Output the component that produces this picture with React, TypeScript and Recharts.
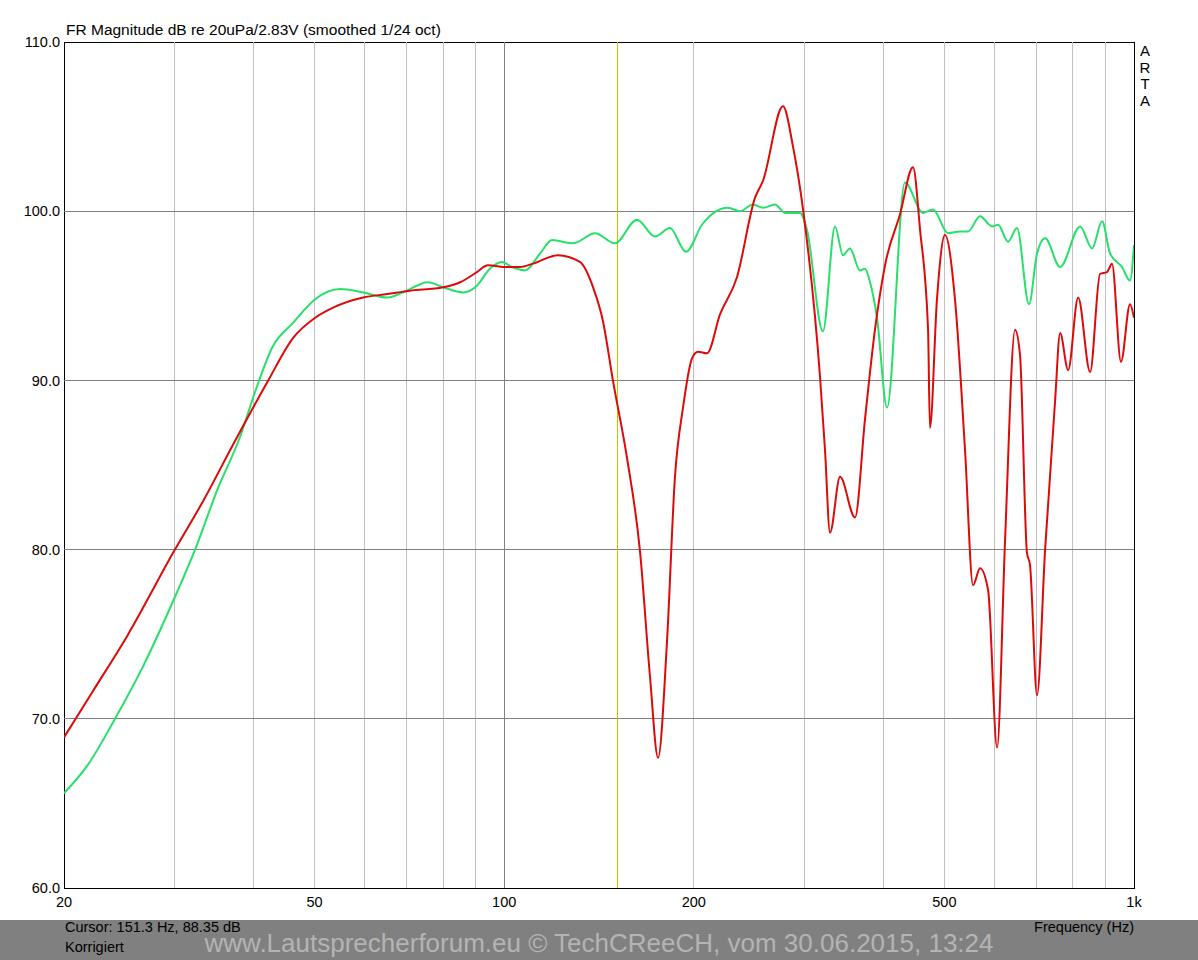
import React from "react";
import {
  LineChart,
  Line,
  XAxis,
  YAxis,
  ReferenceLine,
  ReferenceArea,
} from "recharts";

const FONT = "'Liberation Sans', Arial, sans-serif";

const xTicks = [20, 50, 100, 200, 500, 1000];
const yTicks = [60, 70, 80, 90, 100, 110];
const minorFreqs = [30, 40, 50, 60, 70, 80, 90, 200, 300, 400, 500, 600, 700, 800, 900];
const majorFreqs = [100];
const hGrid = [70, 80, 90, 100];
const cursorFreq = 151.3;

// red curve
const redFreq = [
  20, 22.2, 25.2, 30, 33.3, 37.1, 42.2, 46.2, 50.1, 53.5, 59.7, 65.2, 70.9, 80.0,
  85.1, 90.5, 94.2, 101, 105.9, 111.1, 121.7, 131.9, 138.4, 143.5, 148.8, 156.7,
  164.3, 170.4, 175.5, 181.3, 186.7, 192.3, 198.7, 203.1, 209.9, 220.1, 234.2,
  250.2, 257.6, 277.1, 287.5, 298.2, 317.3, 323.1, 329.1, 341.4, 360.6, 374,
  387.9, 402.4, 425, 445.8, 457.4, 471, 474.2, 486.6, 501, 519.7, 539.1, 555.2,
  569.6, 586.6, 606.2, 624.2, 647.3, 659.2, 676.2, 683.7, 701.5, 722.5, 749.4,
  763.3, 786, 815.3, 851.7, 883.3, 906, 922.7, 953.5, 985.6, 1000,
];
const redDb = [
  68.9, 71.6, 74.9, 80.0, 82.9, 86.2, 90.0, 92.5, 93.7, 94.3, 94.9, 95.1, 95.3, 95.5,
  95.8, 96.4, 96.8, 96.7, 96.7, 96.9, 97.4, 97.0, 95.5, 93.5, 90.0, 85.4,
  79.9, 72.5, 67.7, 74.5, 84.3, 88.4, 91.3, 91.7, 91.6, 93.9, 96.1,
  100.8, 101.8, 106.2, 103.8, 100.1, 90.2, 85.9, 81.0, 84.3, 81.9, 87.7,
  93.0, 96.8, 99.8, 102.6, 98.9, 93.0, 87.2, 94.8, 98.6, 94.8, 85.9, 77.9,
  78.9, 77.6, 68.3, 80.6, 93.0, 91.5, 79.8, 79.1, 71.4, 80.0, 88.8,
  92.8, 90.6, 94.9, 90.5, 96.3, 96.4, 96.9, 91.1, 94.5, 93.7,
];

// green curve
const greenFreq = [
  20, 21.75, 24.1, 26.7, 30, 32.3, 35.0, 38.1, 40.2, 42.9, 46.2, 50.1, 54.9, 59.7,
  65.2, 69.1, 75.7, 80.0, 86.0, 90.5, 94.9, 99.2, 102.9, 107.9, 114, 119.1, 128.6,
  139.4, 149.9, 162.5, 173.6, 183.3, 194.4, 206.1, 226.7, 236.8, 248.3, 257.6,
  269.1, 279.2, 294.9, 302.5, 320.7, 335.2, 345.1, 354, 367.2, 374, 381, 390.8,
  405.4, 432.8, 462.4, 479.6, 506.6, 529.4, 545.1, 569.6, 595.3, 608.4, 630.9,
  652, 681.2, 701.5, 722.5, 763.3, 821.2, 857.9, 889.8, 916.2, 957.1, 985.6, 1000,
];
const greenDb = [
  65.6, 67.2, 70.0, 73.1, 77.2, 80.0, 83.5, 86.7, 89.3, 92.0, 93.4, 94.8, 95.4, 95.2,
  94.9, 95.2, 95.8, 95.5, 95.2, 95.6, 96.6, 97.0, 96.7, 96.5, 97.5, 98.3, 98.1,
  98.7, 98.1, 99.5, 98.5, 99.0, 97.6, 99.2, 100.2, 100.0, 100.4, 100.2,
  100.4, 99.9, 99.9, 98.9, 92.9, 99.1, 97.4, 97.8, 96.5, 96.6, 95.8, 93.7,
  88.4, 101.7, 99.9, 100.1, 98.7, 98.8, 98.8, 99.7, 99.1, 99.2, 98.2,
  99.0, 94.5, 97.5, 98.4, 96.7, 99.1, 97.8, 99.4, 97.5, 96.7, 95.9, 98.0,
];

const redData = redFreq.map((f, i) => ({ f, db: redDb[i] }));
const greenData = greenFreq.map((f, i) => ({ f, db: greenDb[i] }));

const fmtFreq = (v: number) => (v >= 1000 ? `${v / 1000}k` : `${v}`);

const textBase: React.CSSProperties = {
  position: "absolute",
  fontFamily: FONT,
  fontSize: 14.5,
  lineHeight: "16px",
  color: "#000",
  whiteSpace: "nowrap",
};

export default function App() {
  return (
    <div
      style={{
        position: "absolute",
        left: 0,
        top: 0,
        width: 1198,
        height: 960,
        background: "#fff",
        overflow: "hidden",
      }}
    >
      <LineChart
        width={1198}
        height={960}
        margin={{ top: 42, right: 64, left: 0, bottom: 0 }}
      >
        <XAxis
          type="number"
          dataKey="f"
          scale="log"
          domain={[20, 1000]}
          ticks={xTicks}
          interval={0}
          allowDataOverflow
          tickFormatter={fmtFreq}
          axisLine={false}
          tickLine={false}
          tickSize={0}
          tickMargin={9}
          height={72}
          tick={{ fill: "#000", fontSize: 14.5, fontFamily: FONT }}
        />
        <YAxis
          type="number"
          domain={[60, 110]}
          ticks={yTicks}
          interval={0}
          allowDataOverflow
          tickFormatter={(v: number) => v.toFixed(1)}
          axisLine={false}
          tickLine={false}
          tickSize={0}
          tickMargin={4}
          width={64}
          tick={{ fill: "#000", fontSize: 14.5, fontFamily: FONT }}
        />
        {minorFreqs.map((f) => (
          <ReferenceLine
            key={`m${f}`}
            x={f}
            stroke="#c0c0c0"
            strokeWidth={1}
            shapeRendering="crispEdges"
          />
        ))}
        {majorFreqs.map((f) => (
          <ReferenceLine
            key={`M${f}`}
            x={f}
            stroke="#808080"
            strokeWidth={1}
            shapeRendering="crispEdges"
          />
        ))}
        {hGrid.map((v) => (
          <ReferenceLine
            key={`h${v}`}
            y={v}
            stroke="#808080"
            strokeWidth={1}
            shapeRendering="crispEdges"
          />
        ))}
        <ReferenceLine
          x={cursorFreq}
          stroke="#c8c000"
          strokeWidth={1}
          shapeRendering="crispEdges"
        />
        <ReferenceArea
          x1={20}
          x2={1000}
          y1={60}
          y2={110}
          fill="none"
          fillOpacity={0}
          stroke="#000"
          strokeWidth={1}
          shapeRendering="crispEdges"
        />
        <Line
          data={greenData}
          dataKey="db"
          type="monotone"
          stroke="#26e06a"
          strokeWidth={2}
          dot={false}
          activeDot={false}
          isAnimationActive={false}
        />
        <Line
          data={redData}
          dataKey="db"
          type="monotone"
          stroke="#dd0a0a"
          strokeWidth={2}
          dot={false}
          activeDot={false}
          isAnimationActive={false}
        />
      </LineChart>

      <div style={{ ...textBase, left: 66, top: 21, fontSize: 15.5, lineHeight: "17px" }}>
        FR Magnitude dB re 20uPa/2.83V (smoothed 1/24 oct)
      </div>

      <div
        style={{
          ...textBase,
          left: 1138,
          top: 43,
          width: 14,
          fontSize: 15,
          lineHeight: "16.5px",
          textAlign: "center",
          whiteSpace: "normal",
        }}
      >
        {"ARTA".split("").map((c, i) => (
          <div key={i}>{c}</div>
        ))}
      </div>

      <div
        style={{
          position: "absolute",
          left: 0,
          top: 920,
          width: 1198,
          height: 40,
          background: "#808080",
        }}
      />
      <div
        style={{
          ...textBase,
          left: 0,
          width: 1198,
          top: 928,
          fontSize: 26,
          lineHeight: "30px",
          textAlign: "center",
          color: "#b4b4b4",
        }}
      >
        www.Lautsprecherforum.eu © TechCReeCH, vom 30.06.2015, 13:24
      </div>
      <div style={{ ...textBase, left: 65, top: 919 }}>
        Cursor: 151.3 Hz, 88.35 dB
      </div>
      <div style={{ ...textBase, left: 65, top: 939 }}>Korrigiert</div>
      <div style={{ ...textBase, right: 64, top: 919 }}>Frequency (Hz)</div>
    </div>
  );
}
